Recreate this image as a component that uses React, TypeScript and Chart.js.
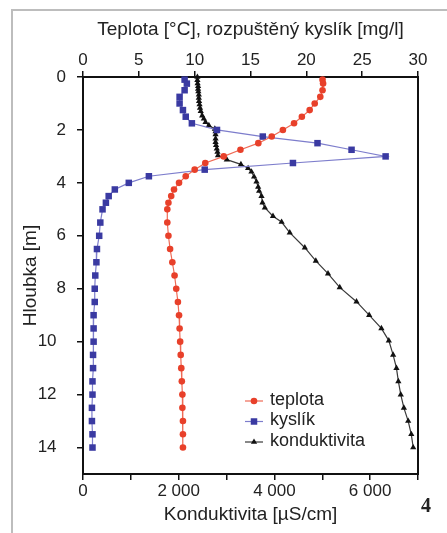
import React, { useEffect, useRef } from "react";
import { Chart, registerables } from "chart.js";

Chart.register(...registerables);

// ---------- data ----------
const depthsTO = [
  0.1, 0.25, 0.5, 0.75, 1.0, 1.25, 1.5, 1.75, 2.0, 2.25, 2.5, 2.75, 3.0, 3.25,
  3.5, 3.75, 4.0, 4.25, 4.5, 4.75, 5.0, 5.5, 6.0, 6.5, 7.0, 7.5, 8.0, 8.5, 9.0,
  9.5, 10.0, 10.5, 11.0, 11.5, 12.0, 12.5, 13.0, 13.5, 14.0,
];
const teplota = [
  21.45, 21.5, 21.45, 21.25, 20.75, 20.3, 19.6, 18.9, 17.9, 16.9, 15.7, 14.1,
  12.6, 10.95, 10.0, 9.2, 8.6, 8.15, 7.9, 7.65, 7.55, 7.55, 7.65, 7.8, 8.0, 8.2,
  8.35, 8.5, 8.6, 8.65, 8.7, 8.75, 8.8, 8.85, 8.9, 8.9, 8.95, 8.95, 8.95,
];
const kyslik = [
  9.1, 9.3, 9.1, 8.65, 8.65, 8.95, 9.2, 9.75, 12.0, 16.1, 21.0, 24.05, 27.1,
  18.8, 10.9, 5.9, 4.1, 2.85, 2.3, 2.05, 1.75, 1.55, 1.45, 1.25, 1.2, 1.1, 1.05,
  1.05, 0.95, 0.95, 0.95, 0.9, 0.9, 0.85, 0.85, 0.8, 0.8, 0.85, 0.85,
];
const condDepths = [
  0.0, 0.12, 0.24, 0.35, 0.45, 0.55, 0.67, 0.79, 0.91, 1.04, 1.17, 1.29, 1.46,
  1.58, 1.71, 1.83, 1.96, 2.06, 2.17, 2.33, 2.46, 2.58, 2.71, 2.83, 2.96, 3.12,
  3.3, 3.45, 3.58, 3.77, 3.96, 4.15, 4.31, 4.5, 4.75, 4.94, 5.26, 5.48, 5.88,
  6.45, 6.95, 7.43, 7.95, 8.49, 9.0, 9.5, 9.96, 10.5, 11.0, 11.5, 12.0, 12.5,
  13.0, 13.5, 14.0,
];
const konduktivita = [
  2390, 2390, 2395, 2405, 2405, 2410, 2420, 2420, 2425, 2435, 2445, 2460, 2490,
  2525, 2560, 2630, 2755, 2770, 2770, 2770, 2770, 2780, 2795, 2810, 2820, 3005,
  3300, 3450, 3520, 3575, 3625, 3660, 3680, 3730, 3750, 3800, 3970, 4150, 4320,
  4635, 4865, 5120, 5365, 5715, 5980, 6235, 6390, 6480, 6550, 6590, 6640, 6705,
  6795, 6860, 6900,
];

const seriesLabels = ["teplota", "kyslík", "konduktivita"];
const depthTicks = [0, 2, 4, 6, 8, 10, 12, 14];
const topTicks = [0, 5, 10, 15, 20, 25, 30];
const condTicks = [0, 1000, 2000, 3000, 4000, 5000, 6000, 7000];
const condLabels = [0, 2000, 4000, 6000];

const topTitle = "Teplota [°C], rozpuštěný kyslík [mg/l]";
const bottomTitle = "Konduktivita [µS/cm]";
const leftTitle = "Hloubka [m]";

const FONT = "'Liberation Sans', Arial, Helvetica, sans-serif";
const TEXT = "#222222";
const AXIS = "#111111";

const fmtThousands = (v: number) =>
  String(v).replace(/\B(?=(\d{3})+(?!\d))/g, " ");

const framePlugin = {
  id: "frameLegend",
  beforeDatasetsDraw(chart: any) {
    const { ctx, chartArea: a } = chart;
    ctx.save();
    ctx.strokeStyle = AXIS;
    ctx.lineWidth = 2;
    ctx.strokeRect(a.left, a.top, a.right - a.left, a.bottom - a.top);
    ctx.restore();
  },
  afterDraw(chart: any) {
    const { ctx, chartArea: a } = chart;
    const x0 = a.left + 162;
    const x1 = x0 + 18;
    const xm = (x0 + x1) / 2;
    const tx = a.left + 187;
    const rows = [a.bottom - 73, a.bottom - 52.5, a.bottom - 32];
    ctx.save();
    chart.data.datasets.forEach((ds: any, i: number) => {
      const y = rows[i];
      ctx.strokeStyle = ds.borderColor;
      ctx.lineWidth = ds.borderWidth;
      ctx.beginPath();
      ctx.moveTo(x0, y);
      ctx.lineTo(x1, y);
      ctx.stroke();
      const r = ds.pointRadius;
      ctx.fillStyle = ds.pointBackgroundColor;
      ctx.beginPath();
      if (ds.pointStyle === "circle") {
        ctx.arc(xm, y, r, 0, Math.PI * 2);
      } else if (ds.pointStyle === "rect") {
        const s = Math.SQRT1_2 * r;
        ctx.rect(xm - s, y - s, 2 * s, 2 * s);
      } else {
        let ang = 0;
        ctx.moveTo(xm + Math.sin(ang) * r, y - Math.cos(ang) * r);
        ang += (2 * Math.PI) / 3;
        ctx.lineTo(xm + Math.sin(ang) * r, y - Math.cos(ang) * r);
        ang += (2 * Math.PI) / 3;
        ctx.lineTo(xm + Math.sin(ang) * r, y - Math.cos(ang) * r);
        ctx.closePath();
      }
      ctx.fill();
      ctx.fillStyle = TEXT;
      ctx.font = `18px ${FONT}`;
      ctx.textAlign = "left";
      ctx.textBaseline = "middle";
      ctx.fillText(ds.label, tx, y - 1);
    });
    ctx.restore();
  },
};

export default function App() {
  const canvasRef = useRef<HTMLCanvasElement | null>(null);

  useEffect(() => {
    const canvas = canvasRef.current;
    if (!canvas) return;

    const tickGrid = {
      display: true,
      drawOnChartArea: false,
      drawTicks: true,
      tickLength: 6,
      color: AXIS,
      lineWidth: 1.5,
    };

    const chart = new Chart(canvas, {
      type: "scatter",
      data: {
        datasets: [
          {
            label: seriesLabels[0],
            data: depthsTO.map((d, i) => ({ x: teplota[i], y: d })),
            xAxisID: "xTop",
            yAxisID: "y",
            showLine: true,
            borderColor: "#ef6a55",
            borderWidth: 1.2,
            pointStyle: "circle",
            pointRadius: 3.3,
            pointBackgroundColor: "#e8402a",
            pointBorderColor: "#e8402a",
            pointBorderWidth: 0,
            clip: false,
          },
          {
            label: seriesLabels[1],
            data: depthsTO.map((d, i) => ({ x: kyslik[i], y: d })),
            xAxisID: "xTop",
            yAxisID: "y",
            showLine: true,
            borderColor: "#7d7dcc",
            borderWidth: 1.2,
            pointStyle: "rect",
            pointRadius: 4.6,
            pointBackgroundColor: "#3a3aa2",
            pointBorderColor: "#3a3aa2",
            pointBorderWidth: 0,
            clip: false,
          },
          {
            label: seriesLabels[2],
            data: condDepths.map((d, i) => ({ x: konduktivita[i], y: d })),
            xAxisID: "xBottom",
            yAxisID: "y",
            showLine: true,
            borderColor: "#3a3a3a",
            borderWidth: 1.2,
            pointStyle: "triangle",
            pointRadius: 3.6,
            pointBackgroundColor: "#111111",
            pointBorderColor: "#111111",
            pointBorderWidth: 0,
            clip: false,
          },
        ],
      },
      options: {
        animation: false,
        responsive: false,
        devicePixelRatio: 1,
        layout: { padding: { left: 0, right: 29, top: 0, bottom: 0 } },
        font: { family: FONT },
        plugins: {
          legend: { display: false },
          tooltip: { enabled: false },
        },
        scales: {
          xTop: {
            type: "linear",
            position: "top",
            min: 0,
            max: 30,
            afterBuildTicks: (s: any) => {
              s.ticks = topTicks.map((v) => ({ value: v }));
            },
            afterFit: (s: any) => {
              s.height = 77;
            },
            ticks: {
              autoSkip: false,
              maxRotation: 0,
              padding: 0,
              color: TEXT,
              font: { family: FONT, size: 17 },
              callback: (v: any) => String(v),
            },
            grid: tickGrid,
            border: { display: false },
            title: {
              display: true,
              text: topTitle,
              color: TEXT,
              font: { family: FONT, size: 19 },
              padding: { top: 18.5, bottom: 0 },
            },
          },
          xBottom: {
            type: "linear",
            position: "bottom",
            min: 0,
            max: 7000,
            afterBuildTicks: (s: any) => {
              s.ticks = condTicks.map((v) => ({ value: v }));
            },
            afterFit: (s: any) => {
              s.height = 59;
            },
            ticks: {
              autoSkip: false,
              maxRotation: 0,
              padding: 1,
              color: TEXT,
              font: { family: FONT, size: 17 },
              callback: (v: any) =>
                condLabels.includes(Number(v)) ? fmtThousands(Number(v)) : "",
            },
            grid: tickGrid,
            border: { display: false },
            title: {
              display: true,
              text: bottomTitle,
              color: TEXT,
              font: { family: FONT, size: 19 },
              padding: { top: 0, bottom: 6.5 },
            },
          },
          y: {
            type: "linear",
            position: "left",
            reverse: true,
            min: 0,
            max: 15,
            afterBuildTicks: (s: any) => {
              s.ticks = depthTicks.map((v) => ({ value: v }));
            },
            afterFit: (s: any) => {
              s.width = 83;
            },
            ticks: {
              autoSkip: false,
              padding: 11,
              color: TEXT,
              font: { family: FONT, size: 17 },
              callback: (v: any) => (Number(v) >= 10 ? `${v}  ` : `${v}`),
            },
            grid: tickGrid,
            border: { display: false },
            title: {
              display: true,
              text: leftTitle,
              color: TEXT,
              font: { family: FONT, size: 19 },
              padding: { top: 19.6, bottom: 0 },
            },
          },
        },
      } as any,
      plugins: [framePlugin as any],
    });

    return () => chart.destroy();
  }, []);

  return (
    <div
      style={{
        position: "fixed",
        left: 0,
        top: 0,
        width: 447,
        height: 533,
        overflow: "hidden",
        background: "#ffffff",
      }}
    >
      <div
        style={{
          position: "absolute",
          left: 11,
          top: 9,
          width: 460,
          height: 560,
          borderLeft: "2px solid #bdbdbd",
          borderTop: "2px solid #bdbdbd",
          boxSizing: "border-box",
        }}
      />
      <canvas
        ref={canvasRef}
        width={447}
        height={533}
        style={{ position: "absolute", left: 0, top: 0, width: 447, height: 533 }}
      />
      <div
        style={{
          position: "absolute",
          left: 421,
          top: 495,
          fontFamily: "'Liberation Serif', 'DejaVu Serif', serif",
          fontWeight: "bold",
          fontSize: 20,
          lineHeight: 1,
          color: "#222",
        }}
      >
        4
      </div>
    </div>
  );
}
